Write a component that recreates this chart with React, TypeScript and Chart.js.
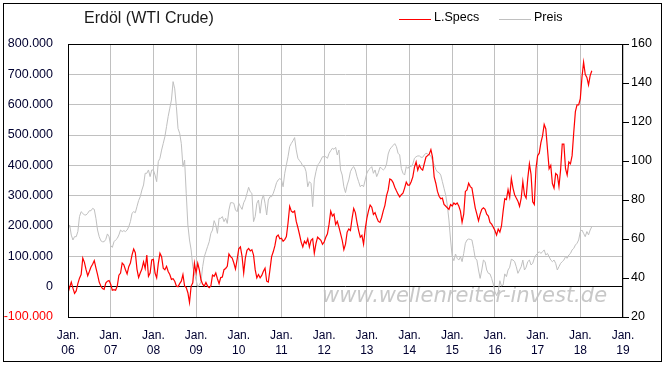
import React, { useEffect, useRef } from 'react';
import { Chart, registerables } from 'chart.js';

Chart.register(...registerables);

// Sampled values, 26 per year (bi-weekly), L.Specs in thousands of contracts
const specs2006 = [-20, -2, 15, -5, -22, -14, 10, 28, 40, 94, 80, 56, 36, 50, 65, 74, 86, 62, 40, 15, 2, -6, -9, 12, 18, 20];
const specs2007 = [8, -12, -10, -12, 2, 38, 45, 78, 72, 56, 42, 66, 78, 105, 124, 112, 58, 30, 45, 58, 82, 60, 104, 34, 45, 88];
const specs2008 = [90, 45, 29, 77, 110, 99, 61, 56, 67, 50, 40, 24, 26, 18, 2, 0, 10, 18, 40, 2, -3, -20, -52, 2, 13, 77];
const specs2009 = [45, 77, 55, 22, 8, 2, 14, 2, -3, 2, 38, 34, 45, 26, 10, 30, 32, 56, 60, 67, 108, 99, 94, 78, 58, 90];
const specs2010 = [125, 131, 100, 45, 94, 120, 126, 118, 122, 104, 56, 29, 40, 29, 37, 51, 61, 18, 15, 56, 99, 115, 135, 165, 170, 158];
const specs2011 = [160, 150, 155, 165, 210, 265, 249, 245, 250, 215, 195, 172, 147, 131, 150, 142, 158, 131, 153, 158, 110, 142, 163, 158, 153, 140];
const specs2012 = [147, 163, 174, 206, 249, 233, 239, 205, 215, 196, 175, 153, 122, 140, 180, 190, 185, 225, 258, 244, 212, 185, 163, 169, 140, 190];
const specs2013 = [225, 250, 269, 262, 238, 244, 228, 215, 212, 228, 250, 268, 300, 319, 355, 352, 343, 328, 316, 305, 296, 303, 308, 325, 345, 335];
const specs2014 = [335, 346, 362, 394, 411, 384, 400, 389, 384, 406, 427, 432, 437, 452, 427, 362, 341, 314, 298, 290, 292, 271, 266, 260, 255, 271];
const specs2015 = [266, 276, 271, 276, 266, 249, 212, 239, 314, 319, 341, 330, 325, 292, 260, 239, 217, 239, 255, 260, 255, 239, 233, 212, 206, 196];
const specs2016 = [185, 170, 190, 180, 200, 249, 290, 287, 320, 295, 357, 325, 303, 292, 282, 265, 292, 346, 303, 292, 357, 405, 370, 280, 271, 389];
const specs2017 = [432, 440, 475, 497, 535, 520, 454, 389, 400, 340, 325, 373, 368, 330, 385, 470, 470, 389, 368, 411, 405, 432, 508, 577, 599, 599];
const specs2018 = [620, 690, 740, 700, 690, 665, 696, 712];

// WTI price (right axis)
const preis2006 = [64.6, 67.2, 62, 59.5, 61.2, 61.2, 63.8, 71.5, 74, 73.2, 72.3, 72.3, 73.2, 74.5, 74.5, 75.7, 75.2, 70.6, 64.6, 61.2, 59.1, 58.6, 58.6, 59.8, 62.6, 61.2];
const preis2007 = [56.6, 55.7, 58.6, 59.5, 60.3, 62.1, 64.6, 63.8, 64.3, 63.8, 64.6, 66.3, 68.9, 73.2, 74, 73.5, 76.6, 79.7, 81.7, 85.1, 87.7, 93.7, 93.7, 95.4, 92, 95.4];
const preis2008 = [95.4, 92.8, 89.4, 99.7, 101.4, 105.6, 109, 112.5, 117.6, 122.8, 127.1, 131.3, 140.7, 137, 127.9, 116.7, 114.2, 109, 97.1, 100.5, 83.4, 67.2, 59.5, 54.4, 45.8, 42.4];
const preis2009 = [39, 35.6, 36.4, 38.1, 45.8, 50.9, 53.5, 56.1, 58.6, 62.9, 64.6, 69.4, 67.2, 62.9, 70.6, 70.6, 71.5, 68.9, 70.6, 68, 74.9, 78.6, 78.6, 78.3, 74.9, 74];
const preis2010 = [78.3, 76.6, 75.2, 78.6, 80.3, 83.4, 86.5, 84.2, 83.4, 68.9, 71.5, 78.3, 80, 73.2, 80, 82.6, 78.3, 72.3, 80, 81.7, 81.7, 83.4, 86, 88.9, 90.3, 91];
const preis2011 = [90.3, 86.8, 93.7, 98, 102.2, 107.4, 109, 110.4, 112, 105.7, 101.4, 100.2, 99.1, 97.4, 97.1, 94.5, 86.8, 89.4, 88.5, 76.6, 90.3, 94.5, 98, 98.8, 100.5, 102.2];
const preis2012 = [102.2, 102.2, 101.4, 103.9, 105.3, 106.5, 106, 107, 103.1, 105.6, 95.4, 92.8, 86.8, 83.8, 87.7, 90.3, 94.5, 96.3, 97.1, 95.4, 92, 89.4, 86.8, 87.7, 86.8, 90.3];
const preis2013 = [93.7, 95.4, 96.2, 97.1, 93.7, 95.4, 92, 94, 96.8, 96.2, 95.4, 96.2, 98.5, 103.6, 106, 107, 108, 108.9, 107.4, 104, 103.1, 96.2, 93.7, 92.8, 97.1, 96.2];
const preis2014 = [97.4, 97.1, 98.5, 101.4, 102.2, 102.6, 102.6, 101.9, 101.9, 103.1, 104, 103.6, 103.1, 102.6, 100.2, 98, 95.7, 94.4, 94, 92.8, 89.4, 86, 82.6, 77.4, 69.7, 59.5];
const preis2015 = [50.9, 48.9, 52.3, 50.1, 49.2, 50.9, 48.4, 52.6, 57.8, 59.5, 60, 59.8, 59.5, 55.2, 50.1, 49.2, 44.1, 39.8, 44.1, 49.2, 48.4, 44.1, 42.4, 42.1, 39.8, 36.9];
const preis2016 = [33, 31, 33, 38.6, 35.9, 36.4, 42.1, 40.7, 44.1, 45.5, 49.6, 49.2, 48.4, 45.8, 42.4, 44.1, 45.8, 49.2, 44.1, 45.5, 48.4, 49.2, 46.7, 47.5, 50.1, 51.8];
const preis2017 = [52.6, 53.5, 52.6, 53.5, 54.4, 51.8, 52.6, 50.9, 49.2, 48.4, 49.2, 47.5, 44.1, 45.8, 47.5, 48.4, 49.2, 50.9, 50.1, 51.8, 52.6, 54.4, 55.2, 56.9, 57.8, 59.5];
const preis2018 = [63.8, 64.6, 62.9, 61.2, 63.8, 62.1, 64.6, 66.3];

const years = [2006, 2007, 2008, 2009, 2010, 2011, 2012, 2013, 2014, 2015, 2016, 2017, 2018];
const samplesPerYear = 26;
const specsByYear = [specs2006, specs2007, specs2008, specs2009, specs2010, specs2011, specs2012, specs2013, specs2014, specs2015, specs2016, specs2017, specs2018];
const preisByYear = [preis2006, preis2007, preis2008, preis2009, preis2010, preis2011, preis2012, preis2013, preis2014, preis2015, preis2016, preis2017, preis2018];

const xTickYears = ['06', '07', '08', '09', '10', '11', '12', '13', '14', '15', '16', '17', '18', '19'];
const xFirstYear = 2006;
const xLastYear = 2019;

const title = 'Erdöl (WTI Crude)';
const seriesNames = ['L.Specs', 'Preis'];
const watermark = 'www.wellenreiter-invest.de';

function toPoints(arrs: number[][]) {
  const pts: { x: number; y: number }[] = [];
  arrs.forEach((arr, k) => {
    arr.forEach((v, i) => pts.push({ x: years[k] + i / samplesPerYear, y: v }));
  });
  return pts;
}

function fmtThousands(v: number) {
  if (v === 0) return '0';
  return `${v}.000`;
}

const RED = '#ff0000';
const GRAY = '#c0c0c0';
const NAVY = '#000030';

const decorPlugin = {
  id: 'decor',
  beforeDraw(chart: any) {
    const ctx = chart.ctx;
    ctx.save();
    ctx.fillStyle = '#ffffff';
    ctx.fillRect(0, 0, chart.width, chart.height);
    ctx.font = "italic 21px 'DejaVu Sans'";
    ctx.fillStyle = '#c8c8c8';
    ctx.textAlign = 'left';
    ctx.textBaseline = 'alphabetic';
    ctx.fillText(watermark, 322, 302);
    ctx.restore();
  },
  afterDraw(chart: any) {
    const ctx = chart.ctx;
    const a = chart.chartArea;
    ctx.save();
    ctx.strokeStyle = '#000';
    ctx.lineWidth = 1;
    ctx.strokeRect(Math.round(a.left) + 0.5, Math.round(a.top) + 0.5, Math.round(a.right - a.left) - 1, Math.round(a.bottom - a.top));
    ctx.strokeRect(3.5, 3.5, 658, 358);

    ctx.fillStyle = '#1a1a1a';
    ctx.font = "16px 'Liberation Sans'";
    ctx.textAlign = 'left';
    ctx.textBaseline = 'middle';
    ctx.fillText(title, 84, 19);

    ctx.font = "12.5px 'Liberation Sans'";
    ctx.fillStyle = '#000';
    ctx.strokeStyle = RED;
    ctx.beginPath();
    ctx.moveTo(399, 19.5);
    ctx.lineTo(431, 19.5);
    ctx.stroke();
    ctx.fillText(seriesNames[0], 434, 18);
    ctx.strokeStyle = GRAY;
    ctx.beginPath();
    ctx.moveTo(499, 19.5);
    ctx.lineTo(531, 19.5);
    ctx.stroke();
    ctx.fillText(seriesNames[1], 534, 18);
    ctx.restore();
  },
};

export default function App() {
  const ref = useRef<HTMLCanvasElement | null>(null);

  useEffect(() => {
    if (!ref.current) return;
    const chart = new Chart(ref.current, {
      type: 'line',
      data: {
        datasets: [
          {
            label: seriesNames[0],
            data: toPoints(specsByYear),
            borderColor: RED,
            borderWidth: 1.2,
            pointRadius: 0,
            tension: 0,
            yAxisID: 'y',
          },
          {
            label: seriesNames[1],
            data: toPoints(preisByYear),
            borderColor: GRAY,
            borderWidth: 1,
            pointRadius: 0,
            tension: 0,
            yAxisID: 'y1',
          },
        ],
      },
      options: {
        animation: false,
        responsive: false,
        devicePixelRatio: 1,
        layout: { padding: { top: 44, left: 0, right: 0, bottom: 0 } },
        plugins: {
          legend: { display: false },
          title: { display: false },
          tooltip: { enabled: false },
        },
        scales: {
          x: {
            type: 'linear',
            min: xFirstYear,
            max: xLastYear,
            afterFit(scale: any) {
              scale.height = 48;
            },
            grid: { color: GRAY, drawTicks: false, lineWidth: 1 },
            border: { display: false },
            ticks: {
              stepSize: 1,
              autoSkip: false,
              maxRotation: 0,
              padding: 11,
              color: NAVY,
              font: { family: "'Liberation Sans'", size: 12, lineHeight: 1.25 },
              callback: (v: any) => ['Jan.', xTickYears[Math.round(Number(v)) - xFirstYear]],
            },
          },
          y: {
            type: 'linear',
            position: 'left',
            min: -100,
            max: 800,
            afterFit(scale: any) {
              scale.width = 68;
            },
            grid: {
              drawTicks: false,
              color: (c: any) => (c.tick && c.tick.value === 0 ? '#000000' : GRAY),
              lineWidth: 1,
            },
            border: { display: false },
            ticks: {
              stepSize: 100,
              padding: 15,
              color: (c: any) => (c.tick && c.tick.value === -100 ? '#ff0000' : NAVY),
              font: { family: "'Liberation Sans'", size: 12.5 },
              callback: (v: any) => fmtThousands(Number(v)),
            },
          },
          y1: {
            type: 'linear',
            position: 'right',
            min: 20,
            max: 160,
            afterFit(scale: any) {
              scale.width = 44;
            },
            grid: { drawOnChartArea: false, drawTicks: true, tickLength: 6, tickColor: '#000', color: '#000' },
            border: { display: false },
            ticks: {
              stepSize: 20,
              padding: 2,
              color: '#000',
              font: { family: "'Liberation Sans'", size: 12.5 },
            },
          },
        },
      },
      plugins: [decorPlugin],
    });
    return () => chart.destroy();
  }, []);

  return (
    <div style={{ position: 'absolute', left: 0, top: 0, width: 667, height: 365, background: '#fff' }}>
      <canvas ref={ref} width={667} height={365} style={{ display: 'block', width: 667, height: 365 }} />
    </div>
  );
}
